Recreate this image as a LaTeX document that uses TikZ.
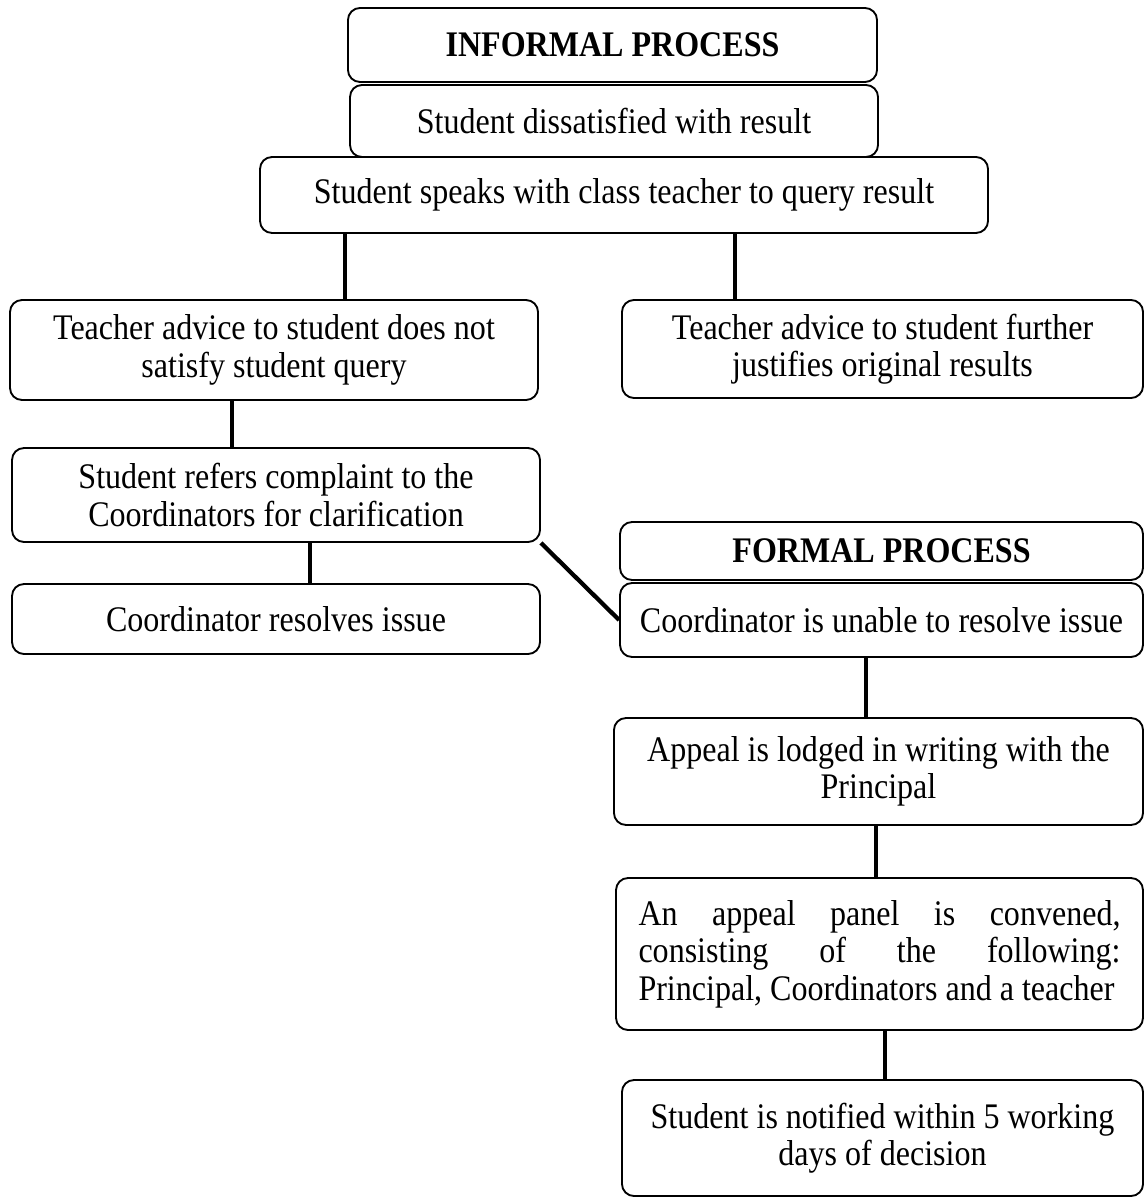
\documentclass[tikz,border=0pt]{standalone}
\usepackage{fontspec}
\setmainfont{Liberation Serif}[FakeStretch=0.89]
\usetikzlibrary{positioning}

\begin{document}
\begin{tikzpicture}[x=0.375pt,y=-0.375pt,line join=bevel,
  box/.style={draw,rounded corners=4.5pt,line width=0.7pt,align=center,inner sep=0pt,
    font=\fontsize{13.5}{14}\selectfont},
  link/.style={line width=1.6pt}]
\useasboundingbox (0,0) rectangle (1145,1198);
%%
\node (node_0) at (612.5,45) [box,minimum width=198.4pt,minimum height=27.75pt] {\textbf{INFORMAL PROCESS}};
  \node (node_1) at (614,121) [box,minimum width=198pt,minimum height=27pt] {Student dissatisfied with result};
  \node (node_2) at (624,195) [box,minimum width=273pt,minimum height=28.5pt] {Student speaks with class teacher to query result};
  \node (node_3) at (274,350) [box,minimum width=198pt,minimum height=37.5pt] {Teacher advice to student does not\\satisfy student query};
  \node (node_4) at (882.5,349) [box,minimum width=195.4pt,minimum height=36.75pt] {Teacher advice to student further\\justifies original results};
  \node (node_5) at (276,495) [box,minimum width=198pt,minimum height=35.25pt] {Student refers complaint to the\\Coordinators for clarification};
  \node (node_6) at (276,619) [box,minimum width=198pt,minimum height=26.25pt] {Coordinator resolves issue};
  \node (node_7) at (881.5,551) [box,minimum width=196.1pt,minimum height=21.75pt] {\textbf{FORMAL PROCESS}};
  \node (node_8) at (881.5,620) [box,minimum width=196.1pt,minimum height=27.75pt] {Coordinator is unable to resolve issue};
  \node (node_9) at (878.5,771.5) [box,minimum width=198.4pt,minimum height=40.1pt] {Appeal is lodged in writing with the\\Principal};
  \node (node_10) at (879.5,954) [box,minimum width=197.6pt,minimum height=57pt,text width=180.75pt,align=justify] {An appeal panel is convened,\linebreak consisting of the following:\linebreak Principal, Coordinators and a teacher};
  \node (node_11) at (882.5,1138) [box,minimum width=195.4pt,minimum height=43.5pt] {Student is notified within 5 working\\days of decision};
  \draw [link] (node_2.south -| 345,0) -- (node_3.north -| 345,0);
  \draw [link] (node_2.south -| 735,0) -- (node_4.north -| 735,0);
  \draw [link] (node_3.south -| 232,0) -- (node_5.north -| 232,0);
  \draw [link] (node_5.south -| 310,0) -- (node_6.north -| 310,0);
  \draw [link] (node_5.south east) -- (node_8.west);
  \draw [link] (node_8.south -| 866,0) -- (node_9.north -| 866,0);
  \draw [link] (node_9.south -| 876,0) -- (node_10.north -| 876,0);
  \draw [link] (node_10.south -| 885,0) -- (node_11.north -| 885,0);
%
\end{tikzpicture}
\end{document}
